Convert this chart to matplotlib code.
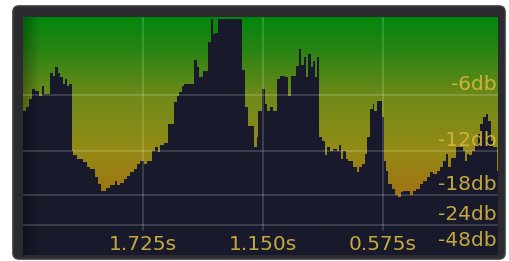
import numpy as np
import matplotlib.pyplot as plt
from matplotlib.colors import LinearSegmentedColormap
from matplotlib.patches import FancyBboxPatch

# level history, newest sample at the right (time runs backwards)
t_start = [2.300, 2.284, 2.273, 2.257, 2.241, 2.225, 2.209, 2.198, 2.169, 2.158,
           2.145, 2.134, 2.121, 2.108, 2.101, 2.089, 2.078, 2.065, 2.058, 2.041,
           2.010, 1.993, 1.978, 1.954, 1.938, 1.926, 1.901, 1.885, 1.858, 1.847,
           1.834, 1.818, 1.802, 1.786, 1.770, 1.754, 1.741, 1.722, 1.706, 1.682,
           1.666, 1.655, 1.645, 1.623, 1.607, 1.578, 1.562, 1.550, 1.538, 1.530,
           1.479, 1.466, 1.454, 1.438, 1.411, 1.399, 1.390, 1.379, 1.363, 1.251,
           1.235, 1.219, 1.192, 1.179, 1.171, 1.155, 1.139, 1.131, 1.115, 1.099,
           1.083, 1.067, 1.043, 1.027, 1.016, 0.990, 0.979, 0.968, 0.955, 0.944,
           0.932, 0.920, 0.908, 0.899, 0.888, 0.879, 0.867, 0.851, 0.843, 0.828,
           0.812, 0.795, 0.784, 0.776, 0.764, 0.751, 0.740, 0.716, 0.700, 0.687,
           0.676, 0.660, 0.649, 0.636, 0.623, 0.615, 0.604, 0.580, 0.569, 0.559,
           0.548, 0.532, 0.516, 0.500, 0.489, 0.476, 0.444, 0.428, 0.415, 0.396,
           0.380, 0.364, 0.348, 0.333, 0.316, 0.300, 0.285, 0.272, 0.261, 0.249,
           0.224, 0.189, 0.181, 0.170, 0.160, 0.149, 0.133, 0.117, 0.109, 0.093,
           0.080, 0.069, 0.058, 0.045, 0.029]
t_end = 0.0225
level_db = [-7.7, -7.3, -6.4, -5.5, -5.7, -6.1, -5.3, -5.9, -4.3, -4.5,
            -3.8, -4.3, -4.6, -5.1, -4.7, -5.3, -5.1, -12.0, -12.6, -13.1,
            -13.5, -14.2, -14.5, -15.6, -16.5, -17.4, -17.0, -16.6, -16.1, -16.7,
            -16.3, -15.8, -15.4, -14.9, -14.5, -13.8, -13.3, -13.8, -13.3, -12.0,
            -11.6, -12.2, -11.4, -11.1, -9.1, -6.8, -6.1, -5.8, -5.3, -5.1,
            -3.2, -3.8, -4.6, -4.1, -1.8, 0.0, -1.2, -1.1, 0.0, -4.0,
            -7.3, -9.3, -11.6, -10.5, -7.7, -5.5, -7.0, -7.7, -7.3, -7.7,
            -4.7, -4.5, -4.6, -6.1, -4.5, -3.7, -2.4, -3.6, -3.0, -4.6,
            -2.8, -3.8, -3.3, -4.6, -3.0, -10.5, -10.9, -12.6, -11.6, -12.0,
            -11.8, -12.0, -11.4, -13.1, -12.0, -13.1, -13.3, -14.2, -14.9, -14.2,
            -13.8, -12.4, -10.5, -7.5, -7.0, -7.7, -6.6, -8.4, -13.3, -14.7,
            -16.5, -17.2, -18.1, -18.5, -17.6, -17.4, -18.1, -17.4, -17.2, -16.5,
            -16.1, -15.6, -14.9, -15.1, -14.7, -14.2, -13.3, -12.4, -14.2, -12.9,
            -11.6, -12.0, -13.3, -12.4, -12.6, -12.0, -11.3, -10.2, -9.1, -8.4,
            -8.0, -8.8, -10.9, -11.6, -14.7]

db_ticks = [-6, -12, -18, -24, -48]
db_labels = ["-6db", "-12db", "-18db", "-24db", "-48db"]
time_ticks = [1.725, 1.150, 0.575]
time_labels = ["1.725s", "1.150s", "0.575s"]

# meter law: dB -> bar height
meter_db = [-60, -48, -24, -18, -12, -6, 0, 6]
meter_h = [0, 4, 30.5, 60, 104, 160, 236, 312]


def fwd(v):
    return np.interp(v, meter_db, meter_h)


def inv(v):
    return np.interp(v, meter_h, meter_db)


fig = plt.figure(figsize=(5.1, 2.61), dpi=100)
fig.patch.set_facecolor("white")

frame = FancyBboxPatch((0.13, 0.02), 4.92, 2.53,
                       boxstyle="round,pad=0,rounding_size=0.06",
                       transform=fig.dpi_scale_trans,
                       fc="#2a2a2f", ec="#3c3c43", lw=1.2, zorder=-5)
fig.add_artist(frame)

pos = [23 / 510, 6 / 261, 475 / 510, 238.5 / 261]

bg = fig.add_axes(pos)
cmap = LinearSegmentedColormap.from_list("meter", [
    (0.0, "#965f0f"), (0.25, "#a07312"), (0.44, "#948a16"),
    (0.67, "#6e8a19"), (0.86, "#288414"), (1.0, "#00870c")])
grad = np.linspace(0, 1, 256).reshape(-1, 1)
bg.imshow(grad, cmap=cmap, extent=[0, 1, 0, 1], origin="lower", aspect="auto")
bg.axis("off")

ax = fig.add_axes(pos)
ax.patch.set_alpha(0)
ax.set_yscale("function", functions=(fwd, inv))

edges = [t_end] + t_start[::-1]
ax.stairs(level_db[::-1], edges, baseline=-60, fill=True, color="#181a2b", zorder=2)

# inner shadow on the left edge
shade = np.zeros((1, 64, 4))
shade[0, :, 3] = np.linspace(0.3, 0, 64)
ax.imshow(shade, extent=[0, 0.035, 0, 1], transform=ax.transAxes,
          aspect="auto", zorder=3)

for d in db_ticks[:-1]:
    ax.axhline(d, color="white", alpha=0.2, lw=1.1, zorder=4)
for t in time_ticks:
    ax.axvline(t, ymin=0.105, color="white", alpha=0.2, lw=1.1, zorder=4)

txt_color = "#d8b840"
for d, lab in zip(db_ticks, db_labels):
    ax.annotate(lab, xy=(0.997, d), xycoords=("axes fraction", "data"),
                xytext=(0, 7.5), textcoords="offset points",
                ha="right", va="center", fontsize=14.5, color=txt_color,
                alpha=0.9, zorder=5)
for t, lab in zip(time_ticks, time_labels):
    ax.text(t, 0.046, lab, transform=ax.get_xaxis_transform(),
            ha="center", va="center", fontsize=14.5, color=txt_color,
            alpha=0.9, zorder=5)

ax.set_xlim(2.30, 0.0225)
ax.set_ylim(-60, 0.2)
ax.axis("off")

fig.savefig("out.png", dpi=100)
